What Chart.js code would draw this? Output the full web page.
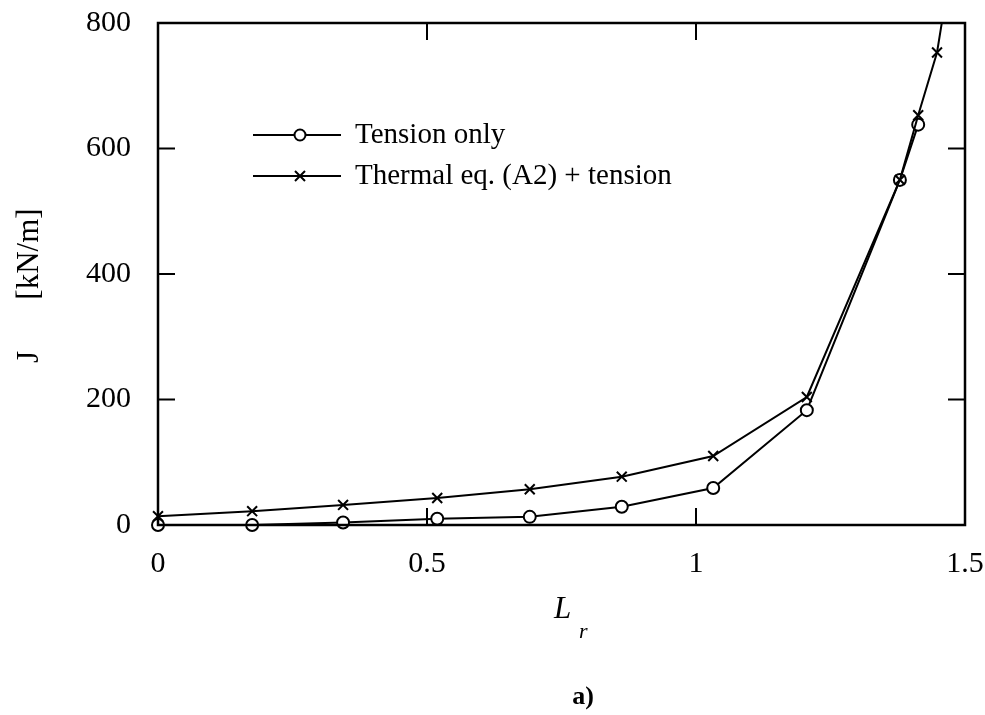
<!DOCTYPE html>
<html>
<head>
<meta charset="utf-8">
<script src="https://cdn.jsdelivr.net/npm/chart.js@4/dist/chart.umd.min.js"></script>
<style>
  html, body { margin: 0; padding: 0; background: #fff; }
  #wrap { width: 985px; height: 715px; }
</style>
</head>
<body>
<div id="wrap"><canvas id="jChart" width="985" height="715"></canvas></div>
<script>
// values
const lrTension = [0, 0.175, 0.344, 0.519, 0.691, 0.862, 1.032, 1.206, 1.379, 1.413];
const jTension = [0, 0, 4, 10, 13, 29, 59, 183, 550, 638];
const lrThermal = [0, 0.175, 0.344, 0.519, 0.691, 0.862, 1.032, 1.206, 1.379, 1.413, 1.448, 1.47];
const jThermal = [14, 22, 32, 43, 57, 77, 110, 204, 550, 653, 753, 870];
const xTicks = [0, 0.5, 1, 1.5];
const yTicks = [0, 200, 400, 600, 800];

const SERIF = "'Liberation Serif', 'Times New Roman', serif";
Chart.defaults.font.family = SERIF;
Chart.defaults.color = '#000';

function toPoints(xs, ys) {
    return xs.map((x, i) => ({ x: x, y: ys[i] }));
}

function drawCross(ctx, x, y, r) {
    ctx.beginPath();
    ctx.moveTo(x - r, y - r); ctx.lineTo(x + r, y + r);
    ctx.moveTo(x - r, y + r); ctx.lineTo(x + r, y - r);
    ctx.stroke();
}

function noOverhang(s) {
    s.paddingTop = 0; s.paddingBottom = 0;
    s.paddingLeft = 0; s.paddingRight = 0;
}

// frame, inner ticks on all four sides, legend and axis titles
const decor = {
    id: 'decor',
    afterDraw(chart) {
        const ctx = chart.ctx;
        const a = chart.chartArea;
        const xs = chart.scales.x, ys = chart.scales.y;
        const tl = 17;
        ctx.save();
        ctx.strokeStyle = '#000';
        ctx.lineWidth = 2.5;
        ctx.strokeRect(a.left, a.top, a.right - a.left, a.bottom - a.top);
        ctx.lineWidth = 2;
        ctx.beginPath();
        xTicks.forEach(v => {
            const px = xs.getPixelForValue(v);
            ctx.moveTo(px, a.bottom); ctx.lineTo(px, a.bottom - tl);
            ctx.moveTo(px, a.top); ctx.lineTo(px, a.top + tl);
        });
        yTicks.forEach(v => {
            const py = ys.getPixelForValue(v);
            ctx.moveTo(a.left, py); ctx.lineTo(a.left + tl, py);
            ctx.moveTo(a.right, py); ctx.lineTo(a.right - tl, py);
        });
        ctx.stroke();

        // legend
        const lx0 = 253, lx1 = 341, mx = 300, tx = 355;
        const rows = [135, 176];
        ctx.lineWidth = 2;
        rows.forEach((ry, i) => {
            ctx.beginPath();
            ctx.moveTo(lx0, ry); ctx.lineTo(lx1, ry);
            ctx.stroke();
            if (i === 0) {
                ctx.beginPath();
                ctx.arc(mx, ry, 5.5, 0, Math.PI * 2);
                ctx.fillStyle = '#fff';
                ctx.fill();
                ctx.stroke();
            } else {
                drawCross(ctx, mx, ry, 5);
            }
        });
        ctx.fillStyle = '#000';
        ctx.font = '29px ' + SERIF;
        ctx.textAlign = 'left';
        ctx.textBaseline = 'middle';
        ctx.fillText(chart.data.datasets[0].label, tx, rows[0]);
        ctx.fillText(chart.data.datasets[1].label, tx, rows[1]);

        // y title
        ctx.save();
        ctx.translate(30, 290);
        ctx.rotate(-Math.PI / 2);
        ctx.font = '31px ' + SERIF;
        ctx.textAlign = 'center';
        ctx.fillText('J', -67, 0);
        ctx.fillText('[kN/m]', 36, 0);
        ctx.restore();

        // x title L_r
        ctx.font = 'italic 31px ' + SERIF;
        ctx.textAlign = 'left';
        ctx.textBaseline = 'alphabetic';
        ctx.fillText('L', 554, 618);
        ctx.font = 'italic 22px ' + SERIF;
        ctx.fillText('r', 579, 638);

        // panel label
        ctx.font = 'bold 26px ' + SERIF;
        ctx.textAlign = 'center';
        ctx.fillText('a)', 583, 704);
        ctx.restore();
    }
};

new Chart(document.getElementById('jChart').getContext('2d'), {
    type: 'scatter',
    data: {
        datasets: [{
            label: 'Tension only',
            data: toPoints(lrTension, jTension),
            order: 1,
            showLine: true,
            borderColor: '#000',
            borderWidth: 2,
            backgroundColor: '#fff',
            pointStyle: 'circle',
            pointRadius: 6,
            pointBorderWidth: 2,
            pointBackgroundColor: '#fff',
            clip: false,
            tension: 0
        }, {
            label: 'Thermal eq. (A2) + tension',
            data: toPoints(lrThermal, jThermal),
            order: 0,
            showLine: true,
            borderColor: '#000',
            borderWidth: 2,
            pointStyle: 'crossRot',
            pointRadius: 7,
            pointBorderWidth: 2,
            clip: { left: 12, right: 12, bottom: 12, top: 0 },
            tension: 0
        }]
    },
    options: {
        responsive: false,
        animation: false,
        layout: { padding: { left: 0, right: 20, top: 23, bottom: 130 } },
        plugins: { legend: { display: false }, tooltip: { enabled: false } },
        scales: {
            x: {
                type: 'linear',
                min: 0, max: 1.5,
                afterBuildTicks: s => { s.ticks = xTicks.map(v => ({ value: v })); },
                afterFit: s => { s.height = 60; noOverhang(s); },
                grid: { display: false, drawTicks: false },
                border: { display: false },
                ticks: { font: { size: 30 }, padding: 21, maxRotation: 0, callback: v => String(v) }
            },
            y: {
                min: 0, max: 800,
                afterBuildTicks: s => { s.ticks = yTicks.map(v => ({ value: v })); },
                afterFit: s => { s.width = 158; noOverhang(s); },
                grid: { display: false, drawTicks: false },
                border: { display: false },
                ticks: { font: { size: 30 }, padding: 27, callback: v => String(v) }
            }
        }
    },
    plugins: [decor]
});
</script>
</body>
</html>
